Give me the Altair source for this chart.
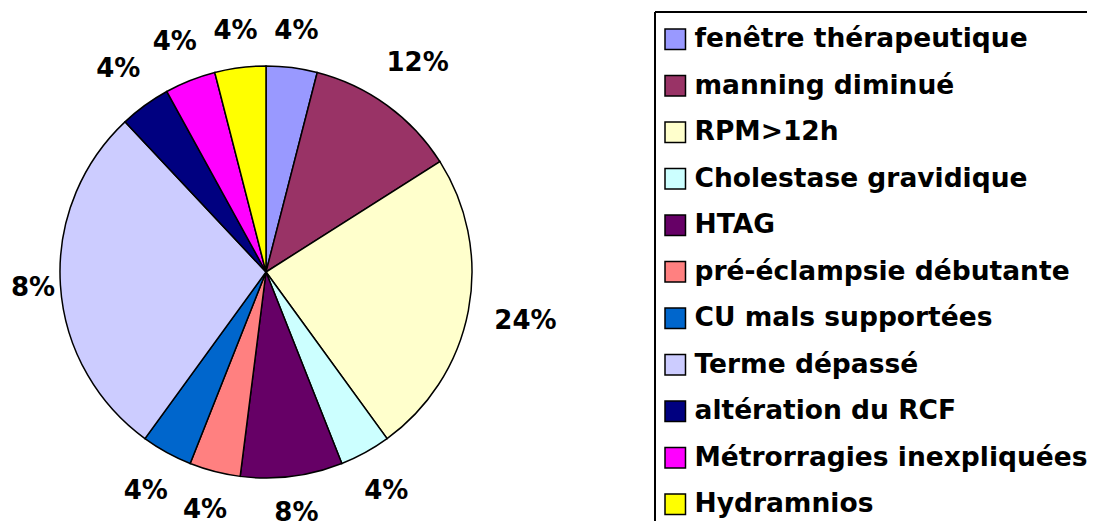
import altair as alt
import pandas as pd

# ---- data ----
categories = [
    "fenêtre thérapeutique",
    "manning diminué",
    "RPM>12h",
    "Cholestase gravidique",
    "HTAG",
    "pré-éclampsie débutante",
    "CU mals supportées",
    "Terme dépassé",
    "altération du RCF",
    "Métrorragies inexpliquées",
    "Hydramnios",
]
counts = [1, 3, 6, 1, 2, 1, 1, 7, 1, 1, 1]
labels = ["4%", "12%", "24%", "4%", "8%", "4%", "4%", "8%", "4%", "4%", "4%"]
colors = [
    "#9999FF", "#993366", "#FFFFCC", "#CCFFFF", "#660066", "#FF8080",
    "#0066CC", "#CCCCFF", "#000080", "#FF00FF", "#FFFF00",
]

df = pd.DataFrame({
    "cat": categories,
    "value": counts,
    "label": labels,
    "idx": list(range(len(categories))),
})

# ---- layout ----
W, H = 1079, 513
CX, CY = 258, 264
R = 206
R0 = 228          # label box distance from centre
CHAR_HALF = 11.5  # half width of one label character
XMIN = 25         # labels are kept inside the plot area on the left
FONT = "DejaVu Sans"
LEG_X, LEG_Y = 643, 7
BOX_X, BOX_Y = 647, 4   # legend frame (runs past the right/bottom edges)

color = alt.Color(
    "cat:N",
    scale=alt.Scale(domain=categories, range=colors),
    sort=categories,
    legend=alt.Legend(
        title=None,
        orient="none",
        legendX=LEG_X,
        legendY=LEG_Y,
        direction="vertical",
        symbolType="square",
        symbolSize=420,
        symbolStrokeColor="black",
        symbolStrokeWidth=1.5,
        symbolOpacity=1,
        labelFont=FONT,
        labelFontWeight="bold",
        labelFontSize=26.5,
        labelColor="black",
        labelLimit=800,
        labelOffset=6,
        rowPadding=19.5,
        padding=11,
    ),
)

pie = alt.Chart(df).mark_arc(
    outerRadius=R, stroke="black", strokeWidth=1.5
).encode(
    theta=alt.Theta("value:Q", stack=True),
    order=alt.Order("idx:Q"),
    color=color,
    x=alt.value(CX),
    y=alt.value(CY),
)

text = alt.Chart(df).transform_window(
    cum="sum(value)", sort=[alt.SortField("idx")], frame=[None, 0]
).transform_joinaggregate(
    total="sum(value)"
).transform_calculate(
    mid="2*PI*(datum.cum - datum.value/2)/datum.total"
).transform_calculate(
    r=f"{R0} + {CHAR_HALF}*length(datum.label)*abs(sin(datum.mid)) + 12*abs(cos(datum.mid))"
).transform_calculate(
    lx=f"max({CX} + datum.r*sin(datum.mid), {XMIN})",
    ly=f"{CY} - datum.r*cos(datum.mid)",
).mark_text(
    font=FONT, fontWeight="bold", fontSize=26, color="black",
    align="center", baseline="middle",
).encode(
    x=alt.X("lx:Q", scale=None, axis=None),
    y=alt.Y("ly:Q", scale=None, axis=None),
    text="label:N",
)

# frame of the legend box: only its top and left sides fall inside the picture
one = pd.DataFrame({"k": [0]})
frame_top = alt.Chart(one).mark_rule(color="black", strokeWidth=2).encode(
    x=alt.value(BOX_X), x2=alt.value(W + 40), y=alt.value(BOX_Y)
)
frame_left = alt.Chart(one).mark_rule(color="black", strokeWidth=2).encode(
    x=alt.value(BOX_X), y=alt.value(BOX_Y), y2=alt.value(H + 40)
)

chart = alt.layer(frame_top, frame_left, pie, text).properties(
    width=W,
    height=H,
    autosize=alt.AutoSizeParams(type="none"),
    padding=0,
).configure_view(stroke=None)

chart.save("out.html", embed_options={"renderer": "svg", "actions": False})
